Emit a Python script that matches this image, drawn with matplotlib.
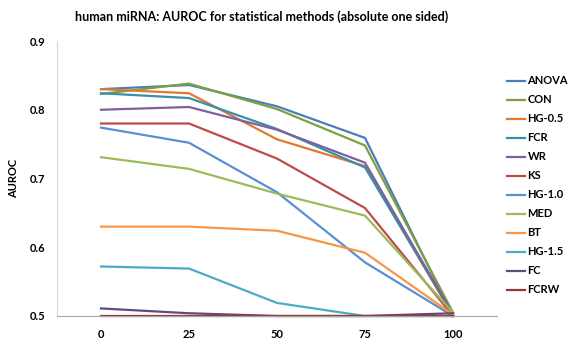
import numpy as np
import matplotlib
matplotlib.use("Agg")
import matplotlib.pyplot as plt

plt.rcParams['font.family'] = ['Lato', 'DejaVu Sans']

# ── Data ───────────────────────────────────────────────────────────────────
x_labels = ['0', '25', '50', '75', '100']

methods = ['ANOVA', 'CON', 'HG-0.5', 'FCR', 'WR', 'KS',
           'HG-1.0', 'MED', 'BT', 'HG-1.5', 'FC', 'FCRW']

anova = [0.830, 0.836, 0.805, 0.759, 0.500]
con   = [0.823, 0.838, 0.801, 0.748, 0.505]
hg05  = [0.830, 0.824, 0.757, 0.718, 0.500]
fcr   = [0.824, 0.817, 0.772, 0.716, 0.502]
wr    = [0.800, 0.804, 0.771, 0.723, 0.502]
ks    = [0.780, 0.780, 0.729, 0.657, 0.500]
hg10  = [0.774, 0.752, 0.680, 0.578, 0.500]
med   = [0.731, 0.714, 0.678, 0.646, 0.505]
bt    = [0.630, 0.630, 0.624, 0.592, 0.502]
hg15  = [0.572, 0.569, 0.519, 0.500, 0.500]
fc    = [0.511, 0.504, 0.500, 0.500, 0.504]
fcrw  = [0.500, 0.500, 0.500, 0.500, 0.500]

series = [anova, con, hg05, fcr, wr, ks, hg10, med, bt, hg15, fc, fcrw]

colors = ['#4A7EBB', '#7E9F3E', '#E3782E', '#3592A8', '#7D60A0', '#BE4B48',
          '#5A8FD3', '#9BBB59', '#F79646', '#4BACC6', '#604A7B', '#953735']

# ── Figure ─────────────────────────────────────────────────────────────────
fig = plt.figure(figsize=(5.68, 3.40), dpi=100)
ax = fig.add_axes([57 / 568, 24 / 340, 440 / 568, 275 / 340])

xpos = np.arange(len(x_labels))
for name, vals, c in zip(methods, series, colors):
    ax.plot(xpos, vals, color=c, lw=1.6, label=name, clip_on=False,
            solid_joinstyle='miter')

ax.set_xlim(-0.5, len(x_labels) - 0.5)
ax.set_ylim(0.5, 0.9)
ax.set_xticks(xpos)
ax.set_xticklabels(x_labels)
ax.set_yticks([0.5, 0.6, 0.7, 0.8, 0.9])
ax.set_yticklabels(['0.5', '0.6', '0.7', '0.8', '0.9'])
ax.tick_params(axis='both', length=0, labelsize=8)
ax.tick_params(axis='y', pad=8.5)
ax.tick_params(axis='x', pad=9)
for lab in ax.get_xticklabels() + ax.get_yticklabels():
    lab.set_fontweight('bold')

for side in ('top', 'right'):
    ax.spines[side].set_visible(False)
ax.spines['left'].set_color('#D9D9D9')
ax.spines['bottom'].set_color('#A6A6A6')

ax.set_ylabel('AUROC', fontsize=8, fontweight='bold')
ax.yaxis.set_label_coords(-0.086, 0.50)

fig.suptitle('human miRNA: AUROC for statistical methods (absolute one sided)',
             x=0.461, y=0.97, fontsize=9, fontweight='bold')

leg = fig.legend(loc='upper left', bbox_to_anchor=(503 / 568, 1 - 71 / 340),
                 frameon=False, fontsize=8, handlelength=1.6,
                 handletextpad=0.2, labelspacing=0.72, borderaxespad=0)
for t in leg.get_texts():
    t.set_fontweight('bold')

fig.savefig('out.png', dpi=100)
